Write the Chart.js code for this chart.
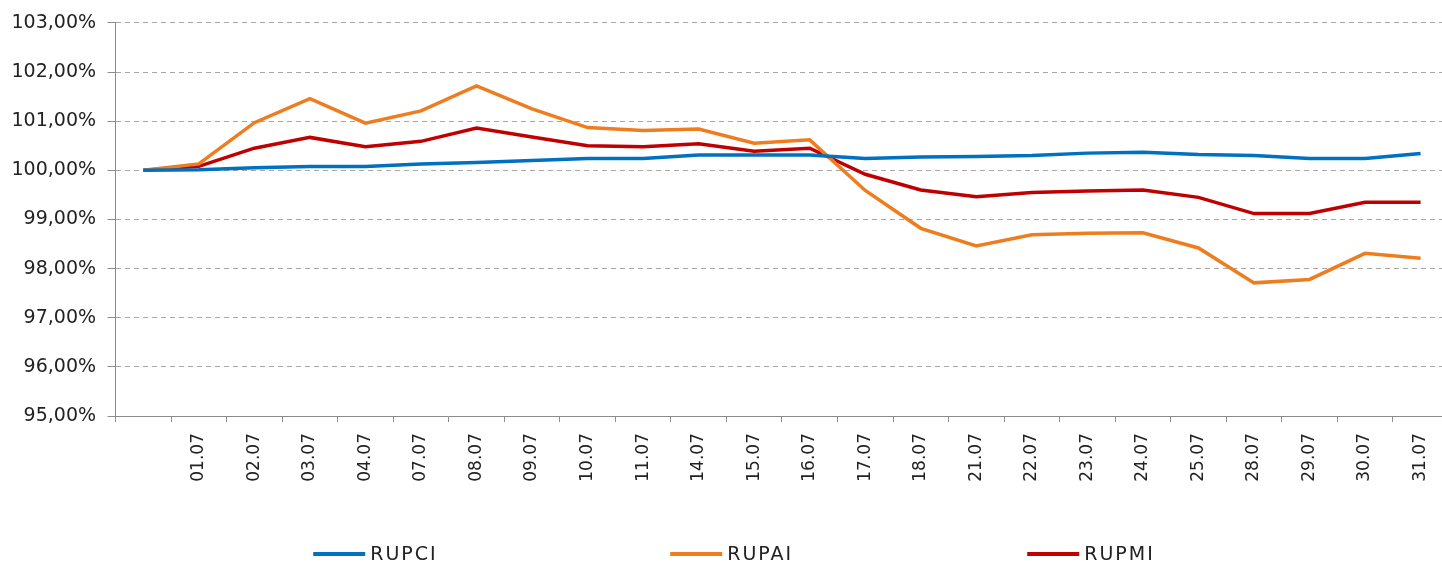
<!DOCTYPE html>
<html>
<head>
<meta charset="utf-8">
<script src="https://cdn.jsdelivr.net/npm/chart.js@4.4.1/dist/chart.umd.min.js"></script>
<style>
  html, body { margin: 0; padding: 0; background: #fff; overflow: hidden; }
  #wrap { position: relative; width: 1452px; height: 567px; }
</style>
</head>
<body>
<div id="wrap"><canvas id="chart"></canvas></div>
<script>
const labels = ['', '01.07', '02.07', '03.07', '04.07', '07.07', '08.07', '09.07', '10.07', '11.07', '14.07', '15.07',
  '16.07', '17.07', '18.07', '21.07', '22.07', '23.07', '24.07', '25.07', '28.07', '29.07', '30.07', '31.07']

const rupci = [100.00, 100.01, 100.05, 100.08, 100.08, 100.13, 100.16, 100.20, 100.24, 100.24, 100.31, 100.31,
  100.31, 100.24, 100.27, 100.28, 100.30, 100.35, 100.37, 100.32, 100.30, 100.24, 100.24, 100.34]
const rupai = [100.00, 100.13, 100.97, 101.46, 100.96, 101.21, 101.72, 101.25, 100.87, 100.81, 100.84, 100.55,
  100.62, 99.59, 98.82, 98.46, 98.69, 98.72, 98.73, 98.42, 97.71, 97.78, 98.31, 98.21]
const rupmi = [100.00, 100.08, 100.45, 100.67, 100.48, 100.59, 100.86, 100.68, 100.50, 100.48, 100.54, 100.39,
  100.45, 99.92, 99.60, 99.46, 99.55, 99.58, 99.60, 99.45, 99.12, 99.12, 99.35, 99.35]

const yMin = 95
const yMax = 103

const font = '"DejaVu Sans", Verdana, sans-serif'

// Excel-like legend: entries spread evenly under the plot
const spreadLegend = {
  id: 'spreadLegend',
  afterDraw(chart) {
    const ctx = chart.ctx
    const sets = chart.data.datasets
    const pitch = 357, lineLen = 52, gap = 5, y = 554
    ctx.save()
    ctx.font = '19px ' + font
    if ('letterSpacing' in ctx) ctx.letterSpacing = '2px'
    ctx.textBaseline = 'middle'
    const lastW = lineLen + gap + ctx.measureText(sets[sets.length - 1].label).width
    let x = chart.width / 2 + 8 - ((sets.length - 1) * pitch + lastW) / 2
    sets.forEach(ds => {
      ctx.strokeStyle = ds.borderColor
      ctx.lineWidth = 4
      ctx.beginPath()
      ctx.moveTo(x, y)
      ctx.lineTo(x + lineLen, y)
      ctx.stroke()
      ctx.fillStyle = '#222'
      ctx.fillText(ds.label, x + lineLen + gap, y + 1)
      x += pitch
    })
    ctx.restore()
  }
}

const ctx = document.getElementById('chart').getContext('2d')
new Chart(ctx, {
  type: 'line',
  data: {
    labels: labels,
    datasets: [
      { label: 'RUPCI', data: rupci, borderColor: '#0070C0' },
      { label: 'RUPAI', data: rupai, borderColor: '#ED7D1F' },
      { label: 'RUPMI', data: rupmi, borderColor: '#C00000' }
    ]
  },
  options: {
    responsive: true,
    maintainAspectRatio: false,
    animation: false,
    layout: { padding: { left: 0, top: 12.6, right: 0, bottom: 74.3 } },
    elements: {
      line: { borderWidth: 3.5, tension: 0 },
      point: { radius: 0 }
    },
    plugins: { legend: { display: false }, tooltip: { enabled: false } },
    scales: {
      x: {
        offset: true,
        grid: { offset: true, drawOnChartArea: false, tickLength: 6, color: '#8c8c8c' },
        border: { color: '#8c8c8c' },
        ticks: { autoSkip: false, maxRotation: 90, minRotation: 90, padding: 11, color: '#222', font: { family: font, size: 17 } }
      },
      y: {
        min: yMin,
        max: yMax,
        grid: { color: '#a6a6a6', tickLength: 8, tickColor: '#8c8c8c' },
        border: { color: '#8c8c8c', dash: [5, 4] },
        ticks: {
          stepSize: 1, padding: 11.5, color: '#222', font: { family: font, size: 19 },
          callback: v => v.toFixed(2).replace('.', ',') + '%'
        }
      }
    }
  },
  plugins: [spreadLegend]
})
</script>
</body>
</html>
